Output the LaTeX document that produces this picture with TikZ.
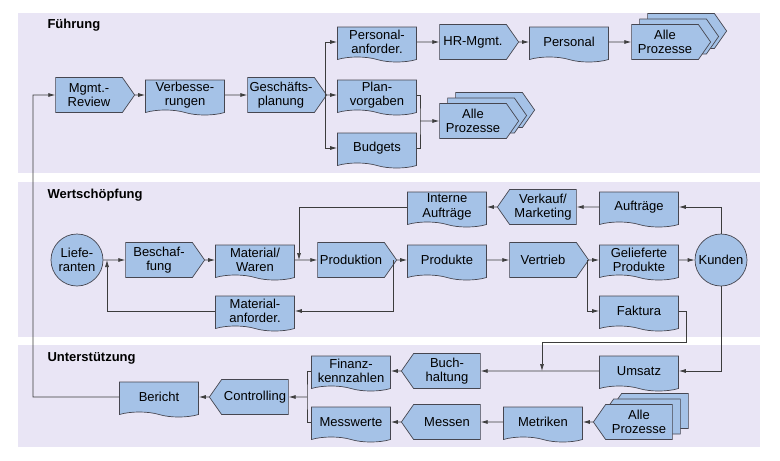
\documentclass[tikz,border=0pt]{standalone}
\usepackage{fontspec}
\setmainfont{Liberation Sans}
\usetikzlibrary{shapes.symbols,shadows,arrows.meta,positioning,calc}
\definecolor{panelbg}{RGB}{233,229,245}
\definecolor{boxblue}{RGB}{165,194,231}
\definecolor{boxline}{RGB}{70,70,80}
\definecolor{wirecol}{RGB}{60,60,60}

\begin{document}
\begin{tikzpicture}[x=1pt, y=-1pt, node distance=96pt,
        box/.style={draw=boxline, fill=boxblue, line width=0.7pt, align=center, inner sep=1pt, minimum width=79pt, minimum height=35pt, font=\fontsize{13}{14.5}\selectfont},
        sigright/.style={box, signal, signal to=east, signal pointer angle=110},
        sigleft/.style={box, signal, signal to=west, signal pointer angle=110},
        doc/.style={box, tape, tape bend top=none, tape bend bottom=out and in, tape bend height=5pt},
        party/.style={box, circle, minimum size=52pt, inner sep=0pt},
        stacked/.style={double copy shadow={shadow xshift=8pt, shadow yshift=5.5pt}},
        panel/.style={fill=panelbg, draw=none},
        title/.style={anchor=west, font=\fontsize{13}{15}\selectfont\bfseries},
        link/.style={draw=wirecol, line width=0.7pt},
        line/.style={link, -{Latex[length=7pt,width=4pt]}}]
        \useasboundingbox (0,0) rectangle (780,461);
        \fill [white] (0,0) rectangle (780,461);
        \path [panel] (18,13) rectangle (760,173);
        \path [panel] (18,182) rectangle (760,337);
        \path [panel] (18,345) rectangle (760,447);
        \node [title] (tfuehrung) at (44,25) {Führung};
        \node [title] (twert) at (44,195) {Wertschöpfung};
        \node [title] (tunter) at (44,358) {Unterstützung};

        \node [sigright] (review) at (89,95) {Mgmt.-\\Review};
        \node [doc, right of=review] (verbess) {Verbesse-\\rungen};
        \node [sigright, right of=verbess] (planung) {Geschäfts-\\planung};
        \node [doc, right of=planung] (vorgaben) {Plan-\\vorgaben};
        \node [doc, above of=vorgaben, node distance=53pt] (persanf) {Personal-\\anforder.};
        \node [doc, below of=vorgaben, node distance=53pt] (budgets) {Budgets};
        \node [sigright, right of=persanf] (hrmgmt) {HR-Mgmt.};
        \node [doc, right of=hrmgmt] (personal) {Personal};
        \node [sigright, stacked, right of=personal] (alle1) {Alle\\Prozesse};
        \node [sigright, stacked] (alle2) at (473,121) {Alle\\Prozesse};

        \node [party] (liefer) at (77,260) {Liefe-\\ranten};
        \node [sigright] (beschaff) at (159,260) {Beschaf-\\fung};
        \node [doc, right of=beschaff] (material) {Material/\\Waren};
        \node [sigright, right of=material] (produktion) {Produktion};
        \node [doc, right of=produktion] (produkte) {Produkte};
        \node [sigright, right of=produkte] (vertrieb) {Vertrieb};
        \node [doc, right of=vertrieb] (geliefert) {Gelieferte\\Produkte};
        \node [party] (kunden) at (721,260) {Kunden};
        \node [doc, above of=geliefert, node distance=53pt] (auftraege) {Aufträge};
        \node [sigleft, left of=auftraege] (verkauf) {Verkauf/\\Marketing};
        \node [doc, left of=verkauf] (intern) {Interne\\Aufträge};
        \node [doc, below of=material, node distance=51pt] (matanf) {Material-\\anforder.};
        \node [doc, below of=geliefert, node distance=51pt] (faktura) {Faktura};

        \node [doc] (bericht) at (159,397) {Bericht};
        \node [sigleft, right of=bericht] (controlling) {Controlling};
        \node [doc] (finanz) at (351,371) {Finanz-\\kennzahlen};
        \node [doc, below of=finanz, node distance=51pt] (messwerte) {Messwerte};
        \node [sigleft, right of=finanz] (buchhalt) {Buch-\\haltung};
        \node [doc] (umsatz) at (639,371) {Umsatz};
        \node [sigleft, right of=messwerte] (messen) {Messen};
        \node [doc, right of=messen] (metriken) {Metriken};
        \node [sigleft, stacked, right of=metriken] (alle3) {Alle\\Prozesse};

        \coordinate (split1) at (325,95);
        \coordinate (join1) at (420,121);
        \coordinate (back) at (33,397);
        \coordinate (tomat) at (299,260);
        \coordinate (split2) at (393,260);
        \coordinate (toliefer) at (107,260);
        \coordinate (split3) at (587,260);
        \coordinate (bend1) at (686,342);
        \coordinate (tobuch) at (542,371);
        \coordinate (join2) at (307,397);

        \path [line] (review) -- (verbess);
        \path [line] (verbess) -- (planung);
        \path [line] (planung) -- (vorgaben);
        \path [line] (split1) |- (persanf);
        \path [line] (split1) |- (budgets);
        \path [line] (persanf) -- (hrmgmt);
        \path [line] (hrmgmt) -- (personal);
        \path [line] (personal) -- (alle1);
        \path [link] (vorgaben.east) -| (join1) |- (budgets.east);
        \path [line] (join1) -- (alle2);
        \path [line] (bericht) -- (back) |- (review);

        \path [line] (liefer) -- (beschaff);
        \path [line] (beschaff) -- (material);
        \path [line] (material) -- (produktion);
        \path [line] (produktion) -- (produkte);
        \path [line] (produkte) -- (vertrieb);
        \path [line] (vertrieb) -- (geliefert);
        \path [line] (geliefert) -- (kunden);
        \path [line] (kunden) |- (auftraege);
        \path [line] (auftraege) -- (verkauf);
        \path [line] (verkauf) -- (intern);
        \path [line] (intern) -| (tomat);
        \path [line] (split2) |- (matanf);
        \path [line] (matanf) -| (toliefer);
        \path [line] (split3) |- (faktura);
        \path [line] (faktura) -| (bend1) -| (tobuch);
        \path [line] (kunden) |- (umsatz);

        \path [line] (umsatz) -- (buchhalt);
        \path [line] (buchhalt) -- (finanz);
        \path [link] (finanz) -| (join2) |- (messwerte);
        \path [line] (join2) -- (controlling);
        \path [line] (controlling) -- (bericht);
        \path [line] (alle3) -- (metriken);
        \path [line] (metriken) -- (messen);
        \path [line] (messen) -- (messwerte);
    \end{tikzpicture}
\end{document}
